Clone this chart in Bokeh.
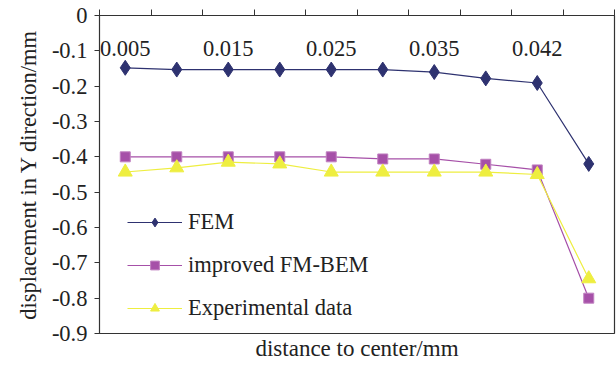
from bokeh.plotting import figure
from bokeh.models import Range1d, FixedTicker, LinearAxis, Legend, LegendItem, CustomJSTickFormatter
from bokeh.embed import file_html
from bokeh.resources import INLINE

# ---- data ----
tick_labels = ["0.005", "0.015", "0.025", "0.035", "0.042"]
labeled_idx = [0, 2, 4, 6, 8]
n_points = 10
fem = [-0.148, -0.153, -0.153, -0.153, -0.153, -0.153, -0.160, -0.178, -0.191, -0.420]
fmbem = [-0.400, -0.400, -0.400, -0.400, -0.400, -0.406, -0.406, -0.421, -0.437, -0.800]
exper = [-0.443, -0.431, -0.415, -0.420, -0.443, -0.443, -0.443, -0.443, -0.450, -0.745]
y_ticks = [0, -0.1, -0.2, -0.3, -0.4, -0.5, -0.6, -0.7, -0.8, -0.9]

FONT = "Liberation Serif"
FS = "22.5px"
TXT = "#222222"
x = list(range(n_points))

p = figure(width=616, height=365, output_backend="svg", toolbar_location=None,
           x_range=Range1d(-0.5, n_points - 0.5), y_range=Range1d(-0.9, 0),
           x_axis_location=None, y_axis_location=None,
           min_border_left=99, min_border_right=2, min_border_top=15, min_border_bottom=32)
p.grid.visible = False
p.background_fill_color = "white"
p.border_fill_color = "white"
p.outline_line_color = "#333333"
p.outline_line_width = 1.2

# left axis
ya = LinearAxis(ticker=FixedTicker(ticks=y_ticks), axis_label="displacement in Y direction/mm")
ya.formatter = CustomJSTickFormatter(code="return tick == 0 ? '0' : tick.toFixed(1);")
ya.major_label_text_font = FONT
ya.major_label_text_font_size = FS
ya.major_label_text_color = TXT
ya.axis_label_text_font = FONT
ya.axis_label_text_font_size = FS
ya.axis_label_text_font_style = "normal"
ya.axis_label_text_color = TXT
ya.axis_label_standoff = 8
ya.major_tick_in = 0
ya.major_tick_out = 5
ya.minor_tick_line_color = None
ya.major_label_standoff = 7
ya.axis_line_color = "#333333"
ya.major_tick_line_color = "#333333"
p.add_layout(ya, "left")

# top axis with labels inside the frame
xa = LinearAxis(ticker=FixedTicker(ticks=labeled_idx,
                                   minor_ticks=[i - 0.5 for i in range(n_points + 1)]))
xa.major_label_overrides = {i: t for i, t in zip(labeled_idx, tick_labels)}
xa.major_label_text_font = FONT
xa.major_label_text_font_size = FS
xa.major_label_text_color = TXT
xa.major_tick_in = 0
xa.major_tick_out = 0
xa.minor_tick_in = 0
xa.minor_tick_out = 6
xa.minor_tick_line_color = "#333333"
xa.major_label_standoff = -46
xa.axis_line_color = "#333333"
p.add_layout(xa, "above")

# bottom axis: title only
xb = LinearAxis(ticker=FixedTicker(ticks=[]), axis_label="distance to center/mm")
xb.major_tick_line_color = None
xb.minor_tick_line_color = None
xb.axis_line_color = None
xb.axis_label_text_font = FONT
xb.axis_label_text_font_size = "23px"
xb.axis_label_text_font_style = "normal"
xb.axis_label_text_color = TXT
xb.axis_label_standoff = 2
p.add_layout(xb, "below")

c_fem = "#2E3270"
c_bem = "#A650A8"
c_exp = "#EEEE40"

l1 = p.line(x, fem, line_color=c_fem, line_width=1.2)
m1 = p.scatter(x, fem, marker="diamond", size=15, fill_color=c_fem, line_color=c_fem)
l2 = p.line(x, fmbem, line_color=c_bem, line_width=1.2)
m2 = p.scatter(x, fmbem, marker="square", size=10, fill_color=c_bem, line_color="#C080C0")
l3 = p.line(x, exper, line_color=c_exp, line_width=1.2)
m3 = p.scatter(x, exper, marker="triangle", size=14, fill_color=c_exp, line_color=c_exp)

legend = Legend(items=[
    LegendItem(label="FEM", renderers=[l1, m1]),
    LegendItem(label="improved FM-BEM", renderers=[l2, m2]),
    LegendItem(label="Experimental data", renderers=[l3, m3]),
], location=(28, 12))
legend.background_fill_alpha = 0
legend.border_line_color = None
legend.label_text_font = FONT
legend.label_text_font_size = FS
legend.label_text_color = TXT
legend.glyph_width = 55
legend.glyph_height = 22
legend.label_height = 22
legend.spacing = 17
legend.label_standoff = 6
p.add_layout(legend, "center")

open("out.html", "w").write(file_html(p, INLINE))
